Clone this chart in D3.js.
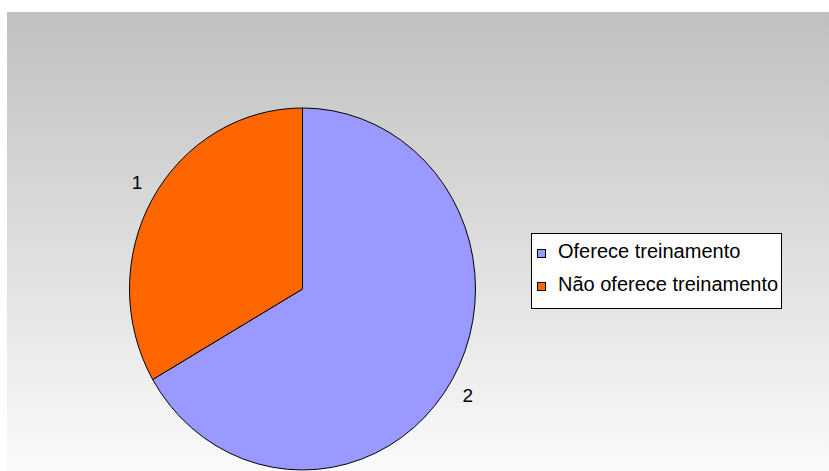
<!DOCTYPE html>
<html>
<head>
<meta charset="utf-8">
<script src="https://cdn.jsdelivr.net/npm/d3@7"></script>
<style>
  html, body { margin: 0; padding: 0; background: #fff; }
  svg { display: block; }
  text { font-family: "Liberation Sans", Arial, sans-serif; fill: #000; }
</style>
</head>
<body>
<svg id="chart" width="829" height="471"></svg>
<script>
// Series data
const categories = ["Oferece treinamento", "Não oferece treinamento"];
const values = [2, 1];
const sliceLabels = ["2", "1"];
const colors = ["#9999ff", "#ff6600"];

const W = 829, H = 471;
const svg = d3.select("#chart");

// Plot background: vertical grey-to-white gradient
const defs = svg.append("defs");
const grad = defs.append("linearGradient")
  .attr("id", "bg").attr("x1", 0).attr("y1", 0).attr("x2", 0).attr("y2", 1);
grad.append("stop").attr("offset", "0%").attr("stop-color", "#c0c0c0");
grad.append("stop").attr("offset", "100%").attr("stop-color", "#fafafa");

svg.append("rect")
  .attr("x", 7).attr("y", 12)
  .attr("width", W - 7).attr("height", H - 12)
  .attr("fill", "url(#bg)");

// Pie (slightly taller than wide)
const cx = 302.5, cy = 289, rx = 173, ry = 181;
const pie = d3.pie().sort(null).value(d => d)
  .startAngle(0).endAngle(2 * Math.PI);
const arcs = pie(values);
const arc = d3.arc().innerRadius(0).outerRadius(rx);

const g = svg.append("g")
  .attr("transform", `translate(${cx},${cy}) scale(1,${ry / rx})`);

g.selectAll("path.slice")
  .data(arcs)
  .enter().append("path")
  .attr("class", "slice")
  .attr("d", arc)
  .attr("fill", (d, i) => colors[i])
  .attr("stroke", "#000")
  .attr("stroke-width", 1)
  .attr("vector-effect", "non-scaling-stroke");

// Value labels outside each slice
const labelR = 191, labelK = 1.12;
svg.selectAll("text.val")
  .data(arcs)
  .enter().append("text")
  .attr("class", "val")
  .attr("x", d => cx + labelR * Math.sin((d.startAngle + d.endAngle) / 2))
  .attr("y", d => cy - labelR * labelK * Math.cos((d.startAngle + d.endAngle) / 2))
  .attr("text-anchor", "middle")
  .attr("dominant-baseline", "central")
  .attr("font-size", 19)
  .text((d, i) => sliceLabels[i]);

// Legend
const lg = svg.append("g").attr("transform", "translate(531,233)");
lg.append("rect")
  .attr("x", 0.5).attr("y", 0.5)
  .attr("width", 250).attr("height", 75)
  .attr("fill", "#fff").attr("stroke", "#000").attr("stroke-width", 1);

const items = lg.selectAll("g.item")
  .data(categories)
  .enter().append("g")
  .attr("class", "item")
  .attr("transform", (d, i) => `translate(0,${i * 33})`);

items.append("rect")
  .attr("x", 6.5).attr("y", 16.5)
  .attr("width", 8).attr("height", 8)
  .attr("fill", (d, i) => colors[i])
  .attr("stroke", "#000").attr("stroke-width", 1);

items.append("text")
  .attr("x", 27).attr("y", 25)
  .attr("font-size", 20)
  .text(d => d);
</script>
</body>
</html>
